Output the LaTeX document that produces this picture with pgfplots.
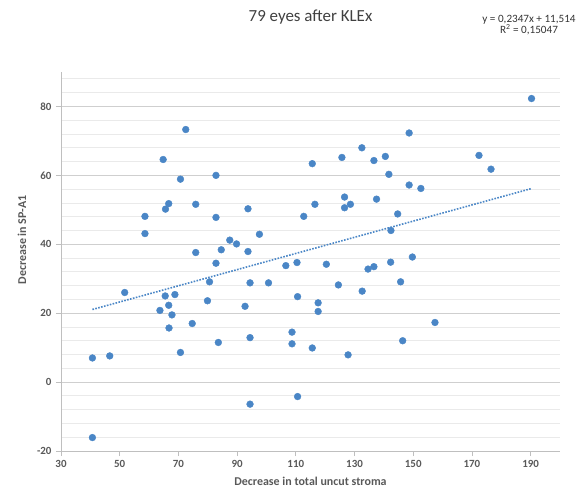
\documentclass[border=0pt]{standalone}
\usepackage{pgfplots}
\pgfplotsset{compat=1.18}
\usepackage{fontspec}
\setmainfont{Carlito}
\definecolor{ptblue}{HTML}{4A86C6}
\definecolor{txtgray}{HTML}{595959}
\definecolor{majgrid}{HTML}{CFCFCF}
\definecolor{mingrid}{HTML}{EAEAEA}
\definecolor{axgray}{HTML}{BFBFBF}
\begin{document}
\begin{tikzpicture}
\path[use as bounding box] (-61bp,-37bp) rectangle (522bp,451bp);
\begin{axis}[
  at={(0,0)}, anchor=south west,
  scale only axis, width=499bp, height=379bp,
  xmin=30, xmax=200, ymin=-20, ymax=90,
  xtick={30,50,...,190}, ytick={-20,0,...,80},
  minor ytick={-16,-12,-8,-4,4,8,12,16,24,28,32,36,44,48,52,56,64,68,72,76,84,88},
  ymajorgrids, yminorgrids,
  major grid style={majgrid, line width=0.9bp},
  minor grid style={mingrid, line width=0.8bp},
  minor tick length=0pt,
  major tick length=5bp,
  tick align=outside,
  tick style={axgray, line width=0.8bp},
  axis x line*=bottom, axis y line*=left,
  axis line style={axgray, line width=0.8bp, -},
  /pgf/number format/assume math mode=true,
  ticklabel style={font=\fontsize{11}{13}\selectfont\bfseries, text=txtgray},
  xticklabel style={yshift=-1bp},
  yticklabel style={xshift=-1bp},
  xlabel={Decrease in total uncut stroma},
  ylabel={Decrease in SP-A1},
  label style={font=\fontsize{12}{14}\selectfont\bfseries, text=txtgray},
  xlabel style={at={(axis description cs:0.5,-0.079)}, anchor=center},
  ylabel style={at={(axis description cs:-0.078,0.557)}, anchor=center},
  clip=false,
]
\addplot[only marks, mark=*, mark size=3.4bp, mark options={fill=ptblue, draw=ptblue}] table {
x y
72.5 73.3
64.8 64.6
70.7 58.9
66.7 51.8
65.6 50.2
75.9 51.6
58.6 48.1
58.6 43.1
75.9 37.6
51.7 26.0
65.5 25.0
68.8 25.4
66.7 22.3
63.7 20.8
67.8 19.5
74.7 17.0
66.8 15.7
70.7 8.6
40.7 7.0
46.6 7.6
40.7 -16.1
82.8 60.0
82.8 47.8
93.7 50.3
97.6 42.9
87.5 41.2
89.8 40.1
84.6 38.4
93.7 37.9
82.8 34.5
106.6 33.8
110.4 34.7
120.4 34.2
115.6 63.4
125.7 65.2
132.5 68.0
136.6 64.3
126.6 53.7
116.5 51.6
126.6 50.6
128.6 51.6
112.7 48.1
137.5 53.1
134.6 32.8
136.6 33.5
80.6 29.1
94.4 28.8
100.7 28.8
124.5 28.2
132.6 26.4
79.9 23.6
92.7 22.0
110.6 24.8
117.6 23.0
117.6 20.5
108.7 14.5
83.6 11.5
94.4 12.9
108.7 11.1
115.6 9.9
127.8 7.9
110.6 -4.2
94.4 -6.4
190.3 82.3
148.6 72.3
140.5 65.5
172.4 65.8
176.5 61.8
141.7 60.3
148.6 57.2
152.6 56.2
144.7 48.8
142.4 44.0
142.3 34.8
149.7 36.3
145.7 29.1
157.4 17.3
146.4 12.0
};
\addplot[ptblue, line width=1.6bp, dash pattern=on 1.6bp off 1.4bp] coordinates {(40.7,21.07) (190.3,56.18)};
\end{axis}
\node[text=black!75, font=\fontsize{17}{19}\selectfont] at (249.5bp,434bp) {79 eyes after KLEx};
\node[text=black!80, font=\fontsize{11.2}{13}\selectfont, align=center] at (468bp,426bp) {y = 0,2347x + 11,514\\[-1.5bp]R\textsuperscript{2} = 0,15047};
\end{tikzpicture}
\end{document}
